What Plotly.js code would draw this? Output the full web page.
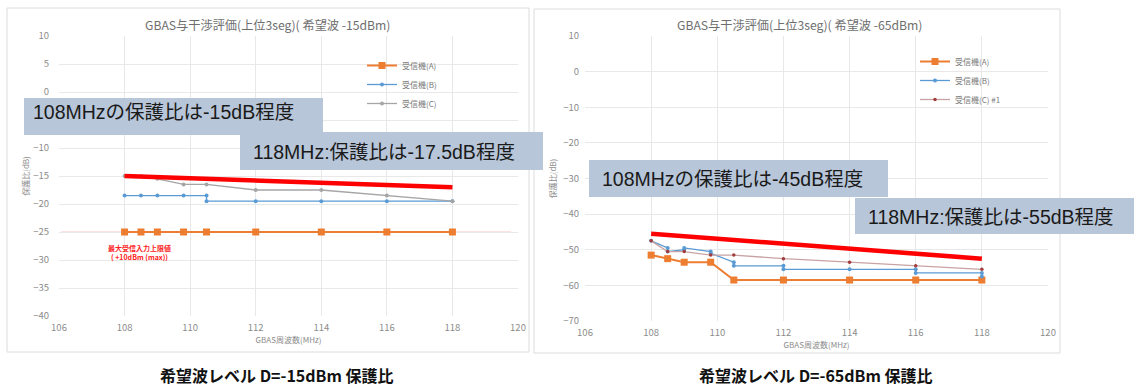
<!DOCTYPE html>
<html>
<head>
<meta charset="utf-8">
<script src="https://cdn.plot.ly/plotly-3.0.1.min.js"></script>
<style>html,body{margin:0;padding:0;background:#fff;}#chart{width:1134px;height:387px;}</style>
</head>
<body>
<div id="chart"></div>
<script>
// ---------- data ----------
const freqTicks = [106, 108, 110, 112, 114, 116, 118, 120];
const leftLevelTicks = [10, 5, 0, -5, -10, -15, -20, -25, -30, -35, -40];
const rightLevelTicks = [10, 0, -10, -20, -30, -40, -50, -60, -70];

const seriesNames = ['受信機(A)', '受信機(B)', '受信機(C)'];
const seriesNamesRight = ['受信機(A)', '受信機(B)', '受信機(C) #1'];

// Left chart: desired wave -15 dBm
const leftFreq = [108, 108.5, 109, 109.8, 110.5, 112, 114, 116, 118];
const leftA = [-25, -25, -25, -25, -25, -25, -25, -25, -25];
const leftBFreq = [108, 108.5, 109, 109.8, 110.5, 110.5, 112, 114, 116, 118];
const leftB = [-18.5, -18.5, -18.5, -18.5, -18.5, -19.5, -19.5, -19.5, -19.5, -19.5];
const leftC = [-15, -15, -15.5, -16.5, -16.5, -17.5, -17.5, -18.5, -19.5];
const leftTrendFreq = [108, 118];
const leftTrend = [-15, -17];
const leftLimitLevel = -25;

// Right chart: desired wave -65 dBm
const rightFreq = [108, 108.5, 109, 109.8, 110.5, 112, 114, 116, 118];
const rightA = [-51.5, -52.5, -53.5, -53.5, -58.5, -58.5, -58.5, -58.5, -58.5];
const rightBFreq = [108, 108.5, 108.5, 109, 109, 109.8, 109.8, 110.5, 110.5, 112, 112, 114, 116, 116, 118, 118];
const rightB = [-47.5, -49.5, -50.5, -50, -49.5, -50.5, -51, -53.5, -54.5, -54.5, -55.5, -55.5, -55.5, -56.5, -56.5, -57.5];
const rightC = [-47.5, -50.5, -50.5, -51.5, -51.5, -52.5, -53.5, -54.5, -55.5];
const rightTrendFreq = [108, 118];
const rightTrend = [-45.5, -52.5];

// ---------- styles ----------
const ORANGE = '#ED7D31', BLUE = '#5B9BD5', GRAY = '#A5A5A5';
const FONT = "'Noto Sans CJK JP', 'Liberation Sans', sans-serif";
const BOXFONT = "'Liberation Sans', 'Noto Sans CJK JP', sans-serif";
const TICKCOLOR = '#8c8c8c';
const W = 1134, H = 387;
const px = v => v / W;
const py = v => 1 - v / H;

function lineTrace(x, y, name, color, symbol, size, xa, ya, legend, lw, mcolor) {
  return {
    type: 'scatter', mode: 'lines+markers', x: x, y: y, name: name,
    xaxis: xa, yaxis: ya, legend: legend,
    line: {color: color, width: lw},
    marker: {color: mcolor || color, symbol: symbol, size: size}
  };
}

const traces = [
  lineTrace(leftFreq, leftA, seriesNames[0], ORANGE, 'square', 7, 'x', 'y', 'legend', 2),
  lineTrace(leftBFreq, leftB, seriesNames[1], BLUE, 'circle', 4, 'x', 'y', 'legend', 1.3),
  lineTrace(leftFreq, leftC, seriesNames[2], GRAY, 'circle', 4, 'x', 'y', 'legend', 1.3),
  {type: 'scatter', mode: 'lines', x: leftTrendFreq, y: leftTrend, xaxis: 'x', yaxis: 'y',
   showlegend: false, line: {color: '#ff0000', width: 4.5}, hoverinfo: 'skip'},
  lineTrace(rightFreq, rightA, seriesNamesRight[0], ORANGE, 'square', 7, 'x2', 'y2', 'legend2', 2),
  lineTrace(rightBFreq, rightB, seriesNamesRight[1], BLUE, 'circle', 4, 'x2', 'y2', 'legend2', 1.3),
  lineTrace(rightFreq, rightC, seriesNamesRight[2], '#c9a3a3', 'circle', 3.5, 'x2', 'y2', 'legend2', 1.3, '#a23b3b'),
  {type: 'scatter', mode: 'lines', x: rightTrendFreq, y: rightTrend, xaxis: 'x2', yaxis: 'y2',
   showlegend: false, line: {color: '#ff0000', width: 4.5}, hoverinfo: 'skip'}
];

function xAxis(domain, anchor) {
  return {
    domain: domain, anchor: anchor, range: [106, 120], tickvals: freqTicks,
    showgrid: true, gridcolor: '#e8e8e8', gridwidth: 1, zeroline: false, showline: false,
    ticks: '', ticklabelstandoff: 4,
    tickfont: {family: FONT, size: 9.5, color: TICKCOLOR},
    title: {text: 'GBAS周波数(MHz)', font: {family: FONT, size: 8, color: TICKCOLOR}, standoff: 4},
    fixedrange: true
  };
}
function yAxis(domain, anchor, range, ticks, standoff, titleStandoff) {
  return {
    domain: domain, anchor: anchor, range: range, tickvals: ticks,
    showgrid: true, gridcolor: '#e8e8e8', gridwidth: 1, zeroline: false, showline: false,
    ticks: '', ticklabelstandoff: standoff,
    tickfont: {family: FONT, size: 9.5, color: TICKCOLOR},
    title: {text: '保護比(dB)', font: {family: FONT, size: 8, color: TICKCOLOR}, standoff: titleStandoff},
    fixedrange: true
  };
}

const boxColor = '#b8c6d9';
const boxes = [
  {x0: 24, x1: 323, y0: 98, y1: 135},
  {x0: 240, x1: 543, y0: 132, y1: 170},
  {x0: 589, x1: 888, y0: 160, y1: 197},
  {x0: 855, x1: 1134, y0: 198, y1: 234}
];
const boxTexts = [
  {t: '108MHzの保護比は-15dB程度', x: 31, y: 112},
  {t: '118MHz:保護比は-17.5dB程度', x: 251, y: 152},
  {t: '108MHzの保護比は-45dB程度', x: 600, y: 179},
  {t: '118MHz:保護比は-55dB程度', x: 866, y: 217}
];

const shapes = [
  {type: 'rect', xref: 'paper', yref: 'paper', x0: px(7), x1: px(529), y0: py(352), y1: py(8),
   line: {color: '#dcdcdc', width: 1}, fillcolor: 'rgba(0,0,0,0)', layer: 'below'},
  {type: 'rect', xref: 'paper', yref: 'paper', x0: px(534), x1: px(1060), y0: py(353), y1: py(9),
   line: {color: '#dcdcdc', width: 1}, fillcolor: 'rgba(0,0,0,0)', layer: 'below'},
  {type: 'line', xref: 'x domain', yref: 'y', x0: 0.005, x1: 0.985, y0: leftLimitLevel, y1: leftLimitLevel,
   line: {color: 'rgba(255,80,80,0.35)', width: 1}, layer: 'below'}
].concat(boxes.map(b => ({
  type: 'rect', xref: 'paper', yref: 'paper', x0: px(b.x0), x1: px(b.x1), y0: py(b.y1), y1: py(b.y0),
  fillcolor: boxColor, line: {width: 0}, layer: 'above'
})));

const annotations = [
  {text: 'GBAS与干渉評価(上位3seg)( 希望波 -15dBm)', xref: 'paper', yref: 'paper', x: px(267), y: py(25),
   xanchor: 'center', yanchor: 'middle',
   showarrow: false, font: {family: FONT, size: 12.2, color: '#6e6e6e'}},
  {text: 'GBAS与干渉評価(上位3seg)( 希望波 -65dBm)', xref: 'paper', yref: 'paper', x: px(799), y: py(25),
   xanchor: 'center', yanchor: 'middle',
   showarrow: false, font: {family: FONT, size: 12.2, color: '#6e6e6e'}},
  {text: '<b>最大受信入力上限値</b><br><b>( +10dBm (max))</b>', xref: 'x', yref: 'y', x: 108.45, y: -28.6,
   xanchor: 'center', yanchor: 'middle',
   showarrow: false, font: {family: FONT, size: 7, color: '#ff2020'}},
  {text: '<b>希望波レベル D=-15dBm 保護比</b>', xref: 'paper', yref: 'paper', x: px(277), y: py(375),
   xanchor: 'center', yanchor: 'middle',
   showarrow: false, font: {family: FONT, size: 16, color: '#111'}},
  {text: '<b>希望波レベル D=-65dBm 保護比</b>', xref: 'paper', yref: 'paper', x: px(816), y: py(375),
   xanchor: 'center', yanchor: 'middle',
   showarrow: false, font: {family: FONT, size: 16, color: '#111'}}
].concat(boxTexts.map(b => ({
  text: b.t, xref: 'paper', yref: 'paper', x: px(b.x), y: py(b.y), xanchor: 'left', yanchor: 'middle',
  showarrow: false, font: {family: BOXFONT, size: 19.5, color: '#1a1a1a'}
})));

const layout = {
  width: W, height: H, margin: {l: 0, r: 0, t: 0, b: 0},
  paper_bgcolor: '#ffffff', plot_bgcolor: 'rgba(0,0,0,0)',
  font: {family: FONT},
  xaxis: xAxis([px(59), px(518)], 'y'),
  yaxis: yAxis([py(316), py(36)], 'x', [-40, 10], leftLevelTicks, 9, 2),
  xaxis2: xAxis([px(585), px(1048)], 'y2'),
  yaxis2: yAxis([py(321), py(36)], 'x2', [-70, 10], rightLevelTicks, 5, 5),
  legend: {x: px(362), y: py(51), xanchor: 'left', yanchor: 'top', bgcolor: 'rgba(0,0,0,0)',
           font: {family: FONT, size: 8, color: '#7a7a7a'}, itemwidth: 30, tracegroupgap: 0},
  legend2: {x: px(915), y: py(47), xanchor: 'left', yanchor: 'top', bgcolor: 'rgba(0,0,0,0)',
            font: {family: FONT, size: 8, color: '#7a7a7a'}, itemwidth: 30, tracegroupgap: 0},
  shapes: shapes,
  annotations: annotations,
  showlegend: true
};

Plotly.newPlot('chart', traces, layout, {staticPlot: true, displayModeBar: false});
</script>
</body>
</html>
